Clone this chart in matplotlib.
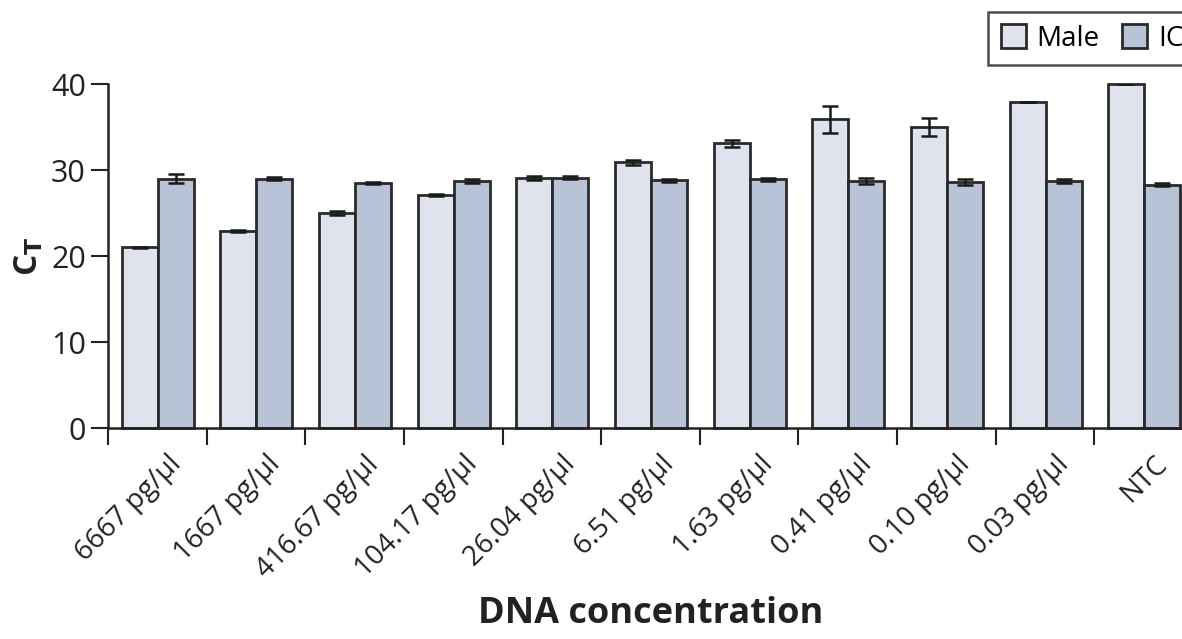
import numpy as np
import matplotlib.pyplot as plt
import matplotlib.transforms as mtransforms
from matplotlib.ticker import FixedLocator

# 데이터
categories = ['6667 pg/µl', '1667 pg/µl', '416.67 pg/µl', '104.17 pg/µl', '26.04 pg/µl',
              '6.51 pg/µl', '1.63 pg/µl', '0.41 pg/µl', '0.10 pg/µl', '0.03 pg/µl', 'NTC']
male = [21.0, 22.9, 25.0, 27.1, 29.1, 30.9, 33.1, 35.9, 35.0, 37.9, 40.0]
male_err = [0.1, 0.15, 0.2, 0.1, 0.25, 0.3, 0.4, 1.6, 1.1, 0.0, 0.0]
ic = [29.0, 29.0, 28.5, 28.7, 29.1, 28.8, 28.9, 28.7, 28.6, 28.7, 28.3]
ic_err = [0.5, 0.2, 0.15, 0.25, 0.2, 0.2, 0.2, 0.35, 0.4, 0.2, 0.2]

plt.rcParams['font.family'] = ['Open Sans', 'DejaVu Sans']

fig = plt.figure(figsize=(11.82, 6.39), dpi=100)
ax = fig.add_axes([108 / 1182, 1 - 428 / 639, 1085 / 1182, 344 / 639])

x = np.arange(len(categories))
w = 0.365
edge = '#2a2a2a'
ekw = dict(elinewidth=1.8, capthick=1.8, ecolor='#1a1a1a')
ax.bar(x - w / 2 + 0.005, male, w, yerr=male_err, capsize=6, color='#dfe3ee',
       edgecolor=edge, linewidth=2, label='Male', error_kw=ekw, clip_on=False)
ax.bar(x + w / 2 + 0.005, ic, w, yerr=ic_err, capsize=6, color='#b8c3d8',
       edgecolor=edge, linewidth=2, label='IC', error_kw=ekw, clip_on=False)

ax.set_xlim(-0.5, len(categories) - 0.5)
ax.set_ylim(0, 40)
ax.set_yticks([0, 10, 20, 30, 40])
ax.tick_params(axis='y', direction='out', length=12, width=1.5, labelsize=22,
               pad=4, color='#222222', labelcolor='#222222')

ax.set_xticks(x)
ax.set_xticklabels(categories, rotation=45, ha='right', rotation_mode='anchor',
                   fontsize=20, color='#222222')
ax.tick_params(axis='x', which='major', length=0, pad=16)
# 라벨을 오른쪽으로 조금 이동
shift = mtransforms.ScaledTranslation(10 / 100, 0, fig.dpi_scale_trans)
for lbl in ax.get_xticklabels():
    lbl.set_transform(lbl.get_transform() + shift)
ax.xaxis.set_minor_locator(FixedLocator(np.arange(-0.5, len(categories), 1.0)))
ax.tick_params(axis='x', which='minor', direction='out', length=12, width=1.5, color='#222222')

for s in ['top', 'right']:
    ax.spines[s].set_visible(False)
for s in ['left', 'bottom']:
    ax.spines[s].set_linewidth(1.8)
    ax.spines[s].set_color('#222222')

ax.set_xlabel('DNA concentration', fontsize=26, fontweight='bold', labelpad=9, color='#222222')
ax.set_ylabel(r'C$_\mathbf{T}$', fontsize=24, fontweight='bold', labelpad=4, color='#222222')

leg = fig.legend(loc='upper left', bbox_to_anchor=(988 / 1182, 1 - 12 / 639), ncol=2,
                 fontsize=20, frameon=True, fancybox=False, handlelength=0.9,
                 handleheight=0.9, handletextpad=0.4, columnspacing=0.8,
                 borderpad=0.45, borderaxespad=0, edgecolor='#222222')
leg.get_frame().set_linewidth(1.8)

fig.savefig('out.png', dpi=100)
